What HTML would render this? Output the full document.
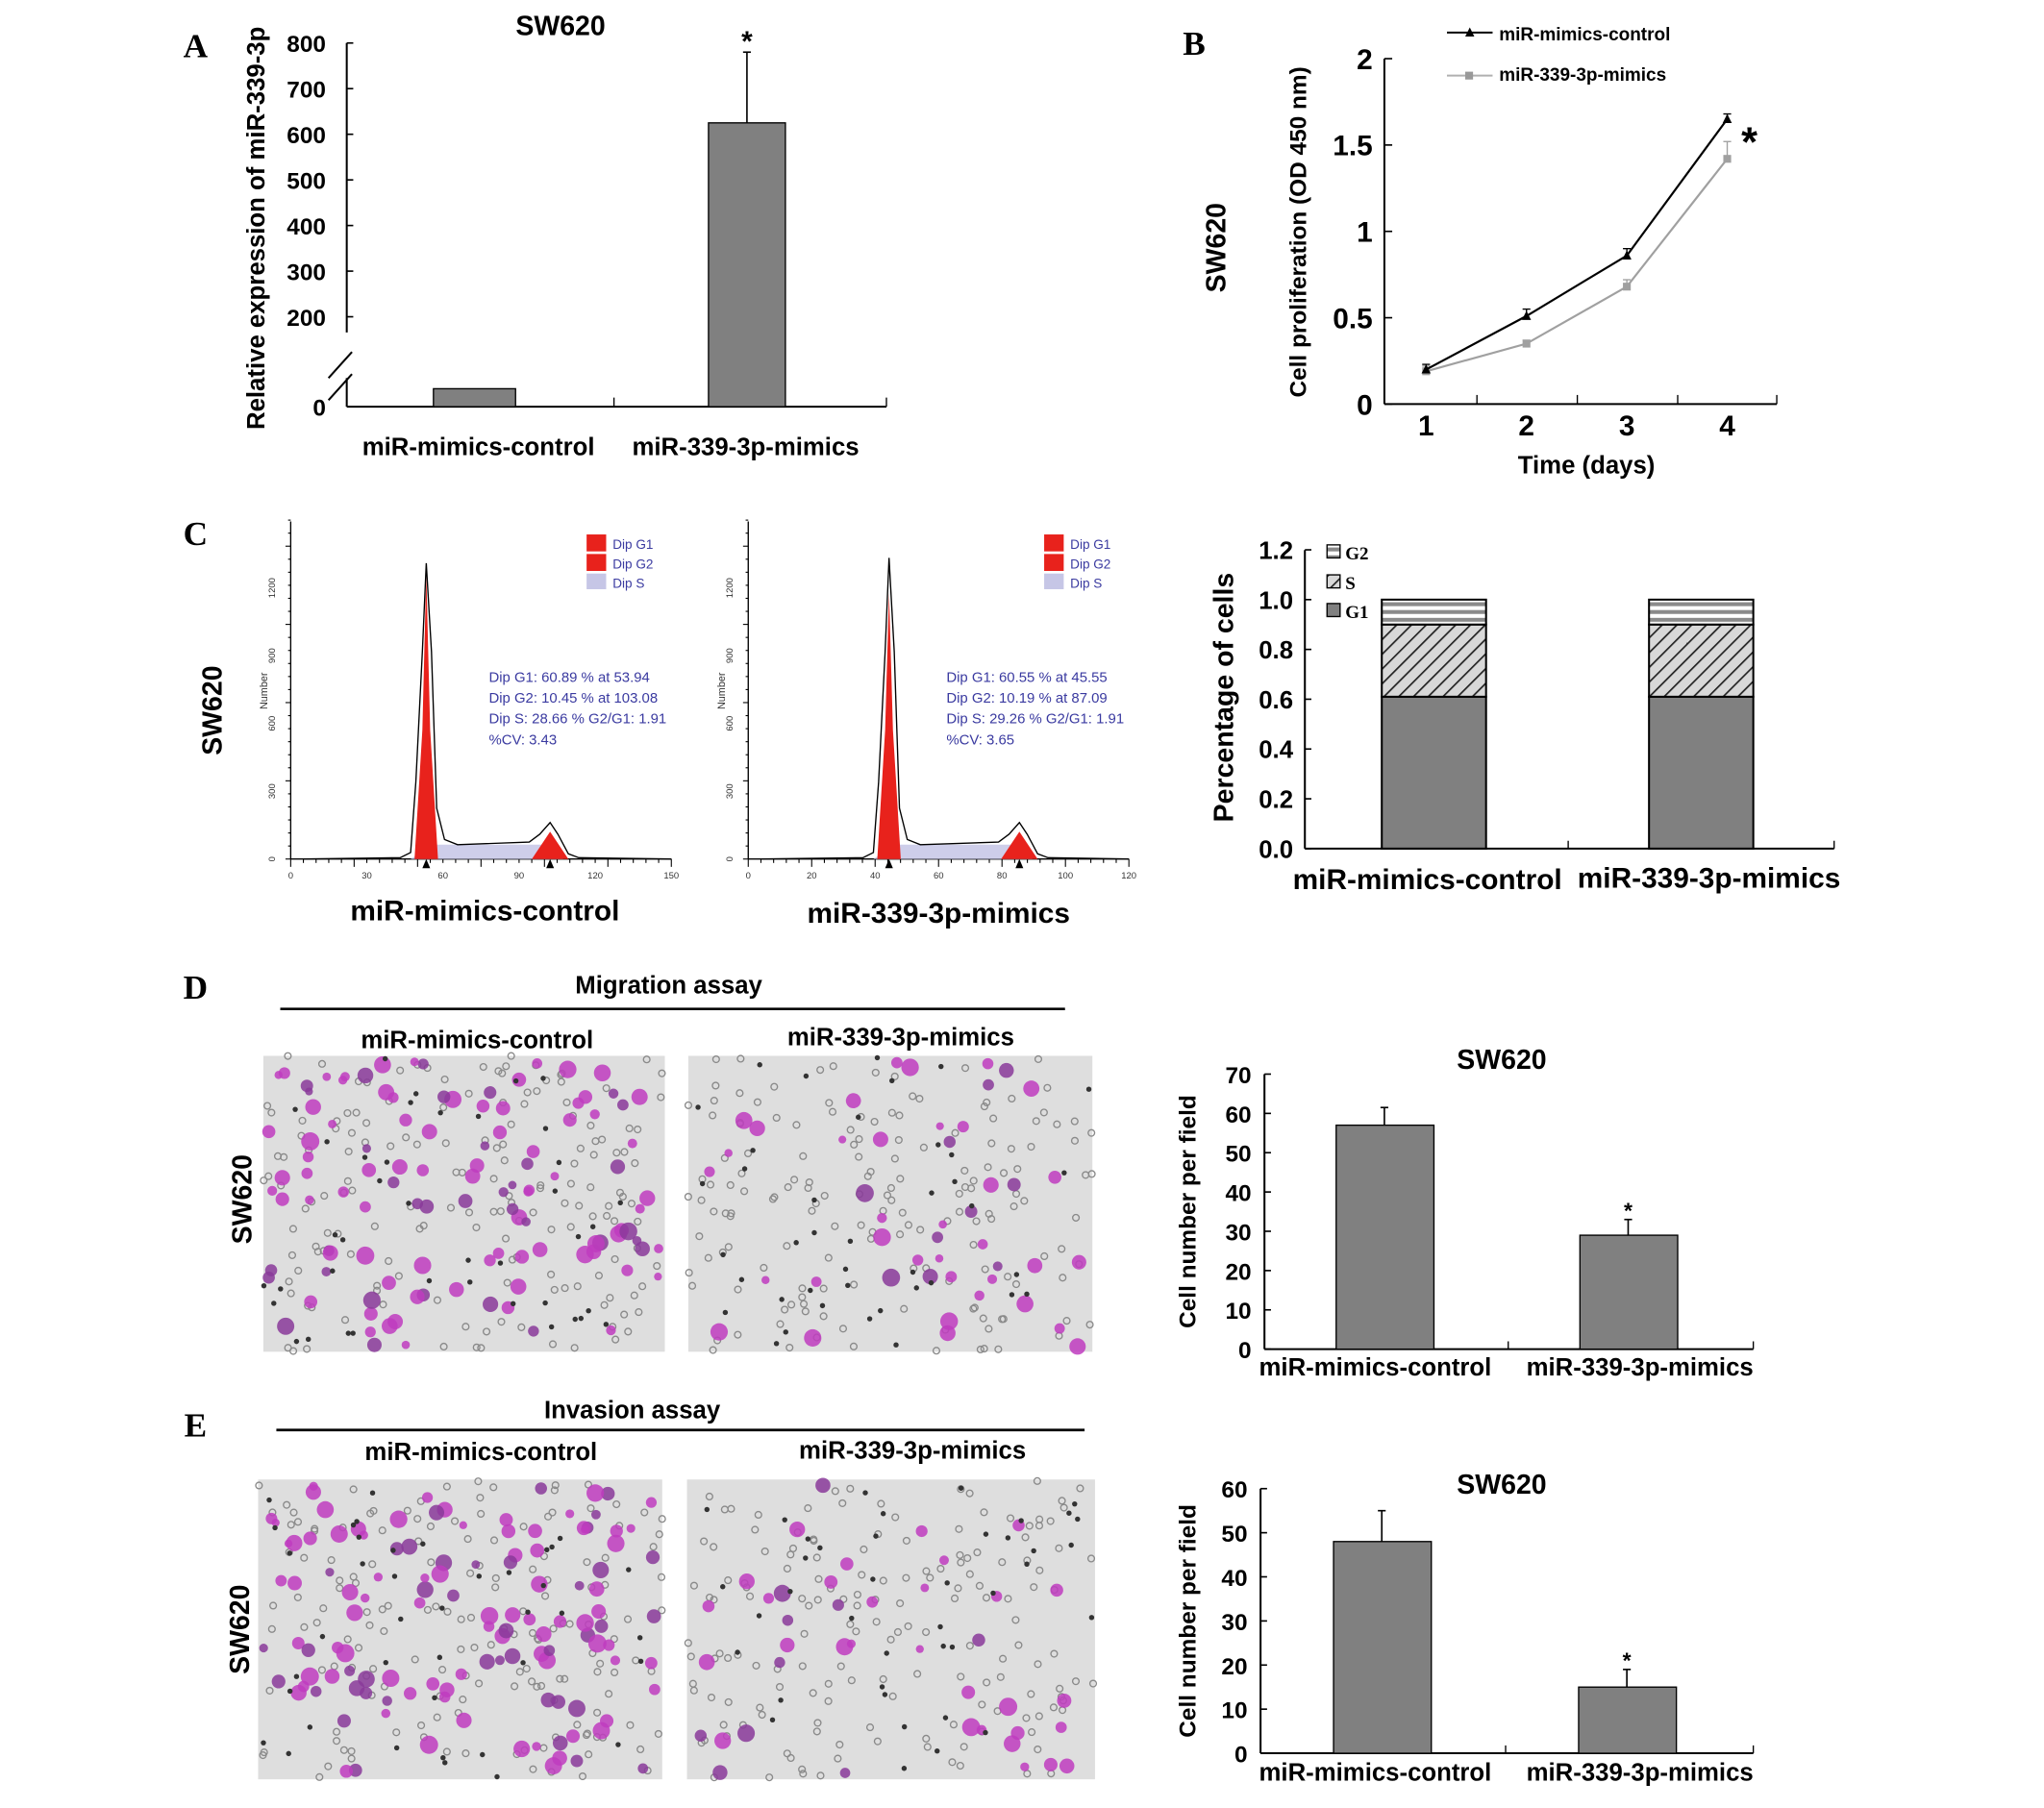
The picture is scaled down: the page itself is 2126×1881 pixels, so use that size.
<!DOCTYPE html>
<html><head><meta charset="utf-8">
<style>
html,body{margin:0;padding:0;background:#fff;}
svg{display:block;}
text{font-family:"Liberation Sans",Arial,sans-serif;}
.b{font-weight:bold;}
.serif{font-family:"Liberation Serif",serif;font-weight:bold;}
</style></head>
<body>
<svg id="fig" width="2126" height="1881" viewBox="0 0 1568 1387" preserveAspectRatio="none" xmlns="http://www.w3.org/2000/svg">
<defs>
<pattern id="hatch" patternUnits="userSpaceOnUse" width="8" height="8" patternTransform="rotate(45)">
<rect width="8" height="8" fill="#d8d8d8"/><line x1="0" y1="0" x2="0" y2="8" stroke="#222" stroke-width="2.5"/></pattern>
<pattern id="hstripe" patternUnits="userSpaceOnUse" width="8" height="6">
<rect width="8" height="6" fill="#fff"/><rect y="0" width="8" height="3" fill="#8a8a8a"/></pattern>
</defs>
<g id="root"></g>
</svg>
<script>
// ---------- DATA ----------
const catsAB = ["miR-mimics-control","miR-339-3p-mimics"];
const aValues = [40, 625];
const aErrors = [0, 155];
const aTicks = [0,200,300,400,500,600,700,800];
const bDays = [1,2,3,4];
const bControl = [0.2,0.51,0.86,1.65];
const bControlErr = [0.03,0.04,0.04,0.03];
const bMimics = [0.19,0.35,0.68,1.42];
const bMimicsErr = [0.03,0.02,0.04,0.1];
const bTicks = [0,0.5,1,1.5,2];
const cG1 = [0.61,0.61];
const cS = [0.29,0.29];
const cG2 = [0.10,0.10];
const cTicks = [0,0.2,0.4,0.6,0.8,1.0,1.2];
const dValues = [57, 29];
const dErrors = [4.5, 4];
const dTicks = [0,10,20,30,40,50,60,70];
const eValues = [48, 15];
const eErrors = [7, 4];
const eTicks = [0,10,20,30,40,50,60];

const NS="http://www.w3.org/2000/svg";
const root=document.getElementById('root');
function el(tag,attrs,parent,txt){const e=document.createElementNS(NS,tag);for(const k in attrs)e.setAttribute(k,attrs[k]);if(txt!==undefined)e.textContent=txt;(parent||root).appendChild(e);return e;}
function grp(name){const g=el('g',{});


return g;}
function txt(g,x,y,s,size,name,opts){opts=opts||{};const t=el('text',{x:x,y:y,'font-size':size,'text-anchor':opts.anchor||'middle',fill:opts.fill||'#000',class:opts.cls||'b'},g,s);
if(opts.rot)t.setAttribute('transform','rotate(-90 '+x+' '+y+')');


return t;}
function line(g,x1,y1,x2,y2,w,c){return el('line',{x1:x1,y1:y1,x2:x2,y2:y2,stroke:c||'#000','stroke-width':w||1.5},g);}

// panel letters
[["A",150,44],["B",916,42],["C",150,418],["D",150,766],["E",150,1102]].forEach(p=>{
 const t=el('text',{x:p[1],y:p[2],'font-size':26,'text-anchor':'middle',class:'serif'},root,p[0]);
 
 
});

// ---------- Panel A ----------
(function(){
 const g=grp('panel-a-expression-chart');
 const x0=266,y0=312;
 const yA=v=> v<200 ? y0 - v*(69/200)*0.5 - (v>0? (v/200)*34.5:0) : 243-(v-200)*0.35;
 const xc=[364,573];
 txt(g,430,27,"SW620",21,'chart-title-a');
 line(g,x0,33,x0,255,1.5);line(g,x0,290,x0,y0,1.5);
 line(g,x0,y0,680,y0,1.5);line(g,471,y0,471,305,1);line(g,680,y0,680,305,1);
 line(g,252,290,270,270,1.5);line(g,252,307,270,287,1.5);
 aTicks.forEach(v=>{if(v===0){txt(g,245,319,"0",18,'y-tick-a');return;}const y=yA(v);line(g,x0,y,x0+5,y,1.2);txt(g,250,y+7,String(v),18,'y-tick-a',{anchor:'end'});});
 aValues.forEach((v,i)=>{const w=i?59:63;const y=yA(v);const r=el('rect',{x:xc[i]-w/2,y:y,width:w,height:y0-y,fill:'#808080',stroke:'#000','stroke-width':1},g);
 
 
 if(aErrors[i]){const ye=yA(v+aErrors[i]);line(g,xc[i],y,xc[i],ye,1.2);line(g,xc[i]-3,ye,xc[i]+3,ye,1.2);txt(g,xc[i],ye-1,"*",22,'significance-star-a');}});
 txt(g,367,349,catsAB[0],19,'x-label-a-control');txt(g,572,349,catsAB[1],19,'x-label-a-mimics');
 txt(g,203,175,"Relative expression of miR-339-3p",19,'y-axis-title-a',{rot:1});
})();

// ---------- Panel B ----------
(function(){
 const g=grp('panel-b-proliferation-chart');
 const x0=1062,y0=310;const yB=v=>y0-v*132.5;const xB=d=>1094+(d-1)*77;
 line(g,x0,45,x0,y0,1.5);line(g,x0,y0,1363,y0,1.5);
 [1133,1210,1287,1363].forEach(x=>line(g,x,y0,x,y0-7,1));
 bTicks.forEach(v=>{const y=yB(v);line(g,x0,y,x0+6,y,1.2);txt(g,1053,y+8,String(v),22,'y-tick-b',{anchor:'end'});});
 bDays.forEach(d=>txt(g,xB(d),334,String(d),22,'x-tick-b'));
 txt(g,1217,363,"Time (days)",19,'x-axis-title-b');
 txt(g,1002,178,"Cell proliferation (OD 450 nm)",18,'y-axis-title-b',{rot:1});
 txt(g,940,190,"SW620",21,'row-label-b',{rot:1});
 function series(vals,errs,col,name,tri){
  const p=vals.map((v,i)=>xB(bDays[i])+','+yB(v)).join(' ');
  const pl=el('polyline',{points:p,fill:'none',stroke:col,'stroke-width':1.6},g);
  
  
  vals.forEach((v,i)=>{const x=xB(bDays[i]),y=yB(v),ye=yB(v+errs[i]);line(g,x,y,x,ye,1,col);line(g,x-3,ye,x+3,ye,1,col);
   const m= tri? el('polygon',{points:(x-3.5)+','+(y+3)+' '+(x+3.5)+','+(y+3)+' '+x+','+(y-4),fill:col},g) : el('rect',{x:x-3,y:y-3,width:6,height:6,fill:col},g);
   
   });
 }
 series(bMimics,bMimicsErr,'#a0a0a0','mimics',false);
 series(bControl,bControlErr,'#000','control',true);
 line(g,1110,25,1145,25,1.5);el('polygon',{points:'1124,28 1131,28 1127.5,21',fill:'#000'},g);
 txt(g,1150,31,"miR-mimics-control",14,'legend-control',{anchor:'start'});
 line(g,1110,58,1145,58,1.5,'#b0b0b0');el('rect',{x:1124,y:55,width:6,height:6,fill:'#999'},g);
 txt(g,1150,62,"miR-339-3p-mimics",14,'legend-mimics',{anchor:'start'});
 txt(g,1342,120,"*",32,'significance-star-b');
})();

// ---------- Panel C histograms ----------
function hist(ax,peak1,peak2,g,name,xt,stats){
 const base=659;
 line(g,ax,400,ax,base,1);line(g,ax,base,ax+292,base,1);
 for(let i=0;i<=30;i++){const x=ax+i*292/30;line(g,x,base,x,base+(i%5?3:6),0.8);}
 for(let i=0;i<=26;i++){const y=base-i*10;line(g,ax-(i%6?2:4),y,ax,y,0.8);}
 xt.forEach((t,i)=>{el('text',{x:ax+i*292/(xt.length-1),y:674,'font-size':7,'text-anchor':'middle',fill:'#333'},g,t);});
 ["0","300","600","900","1200"].forEach((t,i)=>{const y=base-i*52;el('text',{x:ax-12,y:y,'font-size':7,'text-anchor':'middle',fill:'#333',transform:'rotate(-90 '+(ax-12)+' '+y+')'},g,t);});
 el('text',{x:ax-18,y:530,'font-size':8,'text-anchor':'middle',fill:'#333',transform:'rotate(-90 '+(ax-18)+' 530)'},g,"Number");
 el('polygon',{points:(peak1-12)+','+base+' '+(peak1+5)+','+648+' '+(peak2-5)+','+648+' '+(peak2+10)+','+base,fill:'#c6c6e6',opacity:0.85},g);
 const r1=el('polygon',{points:(peak1-9)+','+base+' '+(peak1-3)+','+560+' '+peak1+','+(peak1>600?455:440)+' '+(peak1+3)+','+560+' '+(peak1+9)+','+base,fill:'#e8221c'},g);
 
 
 const r2=el('polygon',{points:(peak2-14)+','+base+' '+peak2+','+638+' '+(peak2+14)+','+base,fill:'#e8221c'},g);
 
 
 const top1=peak1>600?428:432;
 const pts=[[ax+10,base],[peak1-20,base-1],[peak1-12,base-5],[peak1-8,600],[peak1-3,500],[peak1,top1],[peak1+4,500],[peak1+8,620],[peak1+14,644],[peak1+24,648],[peak2-16,646],[peak2-8,640],[peak2,631],[peak2+6,640],[peak2+14,655],[peak2+22,base-1],[ax+292,base]];
 el('polyline',{points:pts.map(p=>p.join(',')).join(' '),fill:'none',stroke:'#000','stroke-width':1},g);
 el('polygon',{points:(peak1-3)+',666 '+(peak1+3)+',666 '+peak1+',659',fill:'#000'},g);
 el('polygon',{points:(peak2-3)+',666 '+(peak2+3)+',666 '+peak2+',659',fill:'#000'},g);
 const lx=ax+227;
 el('rect',{x:lx,y:410,width:15,height:13,fill:'#e8221c'},g);el('rect',{x:lx,y:425,width:15,height:13,fill:'#e8221c'},g);el('rect',{x:lx,y:440,width:15,height:12,fill:'#c6c6e6'},g);
 ["Dip G1","Dip G2","Dip S"].forEach((s,i)=>el('text',{x:lx+20,y:421+i*15,'font-size':10,fill:'#3a3aa0'},g,s));
 stats.forEach((s,i)=>el('text',{x:ax+152,y:523+i*16,'font-size':11,fill:'#3a3aa0'},g,s));
}
(function(){
 const g1=grp('panel-c-histogram-control');
 hist(223,327,422,g1,'hist-control',["0","30","60","90","120","150"],["Dip G1: 60.89 % at 53.94","Dip G2: 10.45 % at 103.08","Dip S: 28.66 %   G2/G1: 1.91","%CV: 3.43"]);
 txt(g1,372,706,"miR-mimics-control",22,'hist-label-control');
 const g2=grp('panel-c-histogram-mimics');
 hist(574,682,782,g2,'hist-mimics',["0","20","40","60","80","100","120"],["Dip G1: 60.55 % at 45.55","Dip G2: 10.19 % at 87.09","Dip S: 29.26 %   G2/G1: 1.91","%CV: 3.65"]);
 txt(g2,720,708,"miR-339-3p-mimics",22,'hist-label-mimics');
 txt(root,170,545,"SW620",21,'row-label-c',{rot:1});
})();

// ---------- Panel C stacked ----------
(function(){
 const g=grp('panel-c-stacked-chart');
 const x0=1001,y0=651;const yC=v=>y0-v*191;const xs=[1100,1305];
 line(g,x0,422,x0,y0,1.5);line(g,x0,y0,1407,y0,1.5);line(g,1203,y0,1203,645,1);line(g,1407,y0,1407,645,1);
 cTicks.forEach(v=>{const y=yC(v);line(g,x0,y,x0+5,y,1.2);txt(g,992,y+7,v.toFixed(1),19,'y-tick-c',{anchor:'end'});});
 xs.forEach((xc,i)=>{
  const segs=[[0,cG1[i],'#808080','g1'],[cG1[i],cG1[i]+cS[i],'url(#hatch)','s'],[cG1[i]+cS[i],cG1[i]+cS[i]+cG2[i],'url(#hstripe)','g2']];
  segs.forEach(s=>{const r=el('rect',{x:xc-40,y:yC(s[1]),width:80,height:yC(s[0])-yC(s[1]),fill:s[2],stroke:'#000','stroke-width':1.5},g);
  
  });
 });
 txt(g,1095,682,catsAB[0],22,'x-label-c-control');txt(g,1311,681,catsAB[1],22,'x-label-c-mimics');
 txt(g,946,535,"Percentage of cells",21,'y-axis-title-c',{rot:1});
 [['url(#hstripe)','G2',423],['url(#hatch)','S',446],['#808080','G1',468]].forEach(l=>{el('rect',{x:1018,y:l[2]-5,width:10,height:10,fill:l[0],stroke:'#000','stroke-width':1},g);el('text',{x:1032,y:l[2]+6,'font-size':14,class:'serif','font-weight':'normal'},g,l[1]);});
})();

// ---------- Microscopy fields ----------
let seed=7;function rnd(){seed=(seed*1103515245+12345)%2147483648;return seed/2147483648;}
function micro(x,y,w,h,name,nPurple){
 const g=grp(name);
 el('rect',{x:x,y:y,width:w,height:h,fill:'#dedede'},g);
 for(let i=0;i<160;i++){el('circle',{cx:x+rnd()*w,cy:y+rnd()*h,r:2.5,fill:'none',stroke:'#8a8a8a','stroke-width':1},g);}
 for(let i=0;i<nPurple;i++){el('circle',{cx:x+4+rnd()*(w-8),cy:y+4+rnd()*(h-8),r:3+rnd()*4,fill:rnd()>0.3?'#c03cc0':'#8a3a9a',opacity:0.85},g);}
 for(let i=0;i<40;i++){el('circle',{cx:x+rnd()*w,cy:y+rnd()*h,r:2,fill:'#333'},g);}
}

// ---------- Bar chart helper for D/E ----------
function barChart(name,x0,y0,top,maxV,vals,errs,ticks,xc,tickX,labY,titleY){
 const g=grp(name);const yS=v=>y0-(y0-top)*v/maxV;
 line(g,x0,top,x0,y0,1.5);line(g,x0,y0,1345,y0,1.5);line(g,tickX,y0,tickX,y0-6,1);line(g,1345,y0,1345,y0-6,1);
 ticks.forEach(v=>{const y=yS(v);line(g,x0,y,x0+5,y,1.2);txt(g,x0-10,y+7,String(v),18,'y-tick',{anchor:'end'});});
 vals.forEach((v,i)=>{const y=yS(v);const r=el('rect',{x:xc[i]-37,y:y,width:75,height:y0-y,fill:'#808080',stroke:'#000','stroke-width':1},g);
  
  
  const ye=yS(v+errs[i]);line(g,xc[i],y,xc[i],ye,1.2);line(g,xc[i]-3,ye,xc[i]+3,ye,1.2);
  if(i===1)txt(g,xc[i],ye-1,"*",17,'significance-star');});
 txt(g,1152,titleY,"SW620",21,'chart-title');
 txt(g,1055,labY,catsAB[0],19,'x-label-control');txt(g,1258,labY,catsAB[1],19,'x-label-mimics');
 txt(g,917,(top+y0)/2,"Cell number per field",18,'y-axis-title',{rot:1});
 return g;
}

// ---------- Panel D ----------
txt(root,513,762,"Migration assay",19,'migration-title');
line(root,215,774,817,774,2);
txt(root,366,804,"miR-mimics-control",19,'d-label-control');
txt(root,691,802,"miR-339-3p-mimics",19,'d-label-mimics');
micro(202,810,308,227,'migration-image-control',110);
micro(528,810,310,227,'migration-image-mimics',45);
txt(root,193,920,"SW620",21,'row-label-d',{rot:1});
barChart('panel-d-migration-chart',970,1035,824,70,dValues,dErrors,dTicks,[1062,1249],1157,1055,820);

// ---------- Panel E ----------
txt(root,485,1088,"Invasion assay",19,'invasion-title');
line(root,212,1097,832,1097,2);
txt(root,369,1120,"miR-mimics-control",19,'e-label-control');
txt(root,700,1119,"miR-339-3p-mimics",19,'e-label-mimics');
micro(198,1135,310,230,'invasion-image-control',120);
micro(527,1135,313,230,'invasion-image-mimics',40);
txt(root,191,1250,"SW620",21,'row-label-e',{rot:1});
barChart('panel-e-invasion-chart',967,1345,1142,60,eValues,eErrors,eTicks,[1060,1248],1155,1366,1146);
</script>
</body></html>
